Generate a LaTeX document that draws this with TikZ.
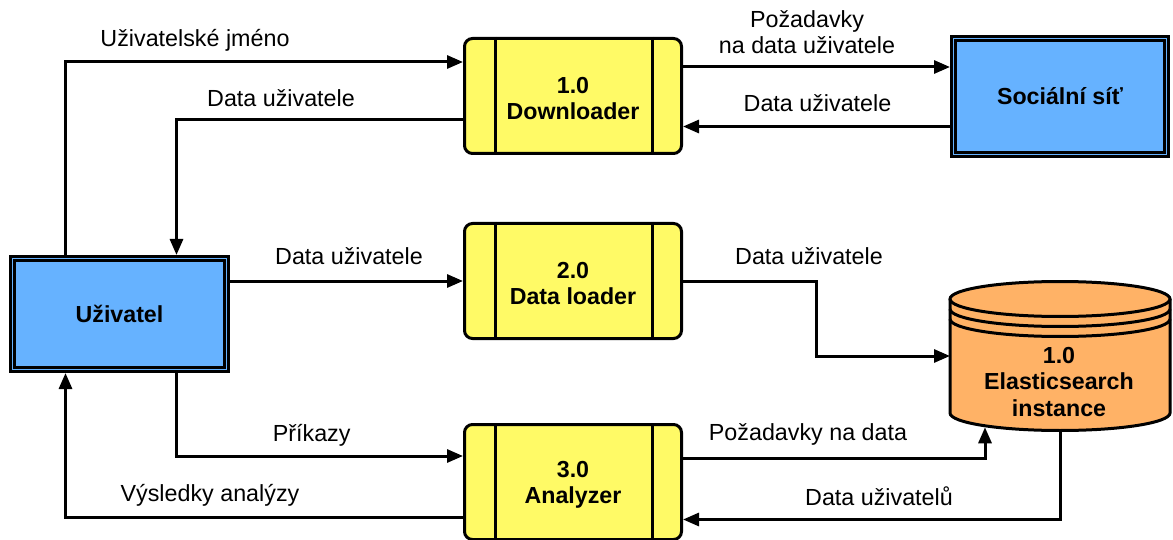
\documentclass[tikz,border=0pt]{standalone}
\usepackage{fontspec}
\setmainfont{Liberation Sans}
\usetikzlibrary{arrows.meta,calc}
\definecolor{procfill}{HTML}{FFFA66}
\definecolor{entfill}{HTML}{66B2FF}
\definecolor{storefill}{HTML}{FFB266}
\newcommand{\toprule}{\rule{0pt}{21pt}}
\begin{document}
\begin{tikzpicture}[x=1pt,y=-1pt,
  boxfont/.style={font=\bfseries\fontsize{23.2}{25.7}\selectfont},
  proc/.style={rectangle, rounded corners=8pt, draw, line width=3pt, fill=procfill,
    minimum width=217pt, minimum height=115pt, align=center, inner sep=0pt, boxfont},
  ent/.style={rectangle, draw, line width=2.6pt, double=entfill, double distance=1.6pt,
    fill=entfill, outer sep=3.4pt, inner sep=0pt, boxfont},
  flow/.style={line width=3pt, -{Triangle[length=16pt,width=13pt]}},
  lbl/.style={anchor=base, inner sep=0pt, font=\fontsize{23.3}{26.7}\selectfont},
  cyl/.style={line width=3pt},
  sep/.style={line width=3pt}
]
\useasboundingbox (0,0) rectangle (1173,540);

% processes
\node[proc] (dl) at (573,96) {\toprule 1.0\\Downloader};
\node[proc] (ld) at (573,281) {\toprule 2.0\\Data loader};
\node[proc] (an) at (573,482) {\rule{0pt}{22pt}3.0\\Analyzer};
\foreach \p in {dl,ld,an}{
  \draw[sep] ($(\p.north west)+(32,0)$) -- ($(\p.south west)+(32,0)$);
  \draw[sep] ($(\p.north east)+(-31,0)$) -- ($(\p.south east)+(-31,0)$);
}

% external entities
\node[ent, minimum width=213.2pt, minimum height=116.2pt] (soc) at (1060,96.5) {Sociální síť};
\node[ent, minimum width=214.2pt, minimum height=111.2pt] (u) at (119.5,314) {Uživatel};

% data store (cylinder with rings)
\fill[storefill] (950,299) -- (950,413)
  arc[start angle=180,end angle=0,x radius=110,y radius=17.5] -- (1170,299)
  arc[start angle=0,end angle=-180,x radius=110,y radius=17.5] -- cycle;
\draw[cyl] (950,299) -- (950,413)
  arc[start angle=180,end angle=0,x radius=110,y radius=17.5] -- (1170,299);
\draw[cyl] (1060,299) ellipse[x radius=110,y radius=17.5];
\draw[cyl] (950,309) arc[start angle=180,end angle=0,x radius=110,y radius=17.5];
\draw[cyl] (950,319) arc[start angle=180,end angle=0,x radius=110,y radius=17.5];
\node[minimum width=220pt, minimum height=149.5pt, inner sep=0pt, outer sep=0pt] (es) at (1060,356) {};
\node[align=center, inner sep=0pt, font=\bfseries\fontsize{23.2}{26.7}\selectfont] (estext) at (1059,382) {1.0\\Elasticsearch\\instance};
\coordinate (esq) at (985,427.3);

% flows
\coordinate (c1) at ($(u.north)+(-54,0)$);
\draw[flow] (c1) |- ($(dl.west)+(0,-34)$);
\draw[flow] ($(dl.west)+(0,24)$) -| ($(u.north)+(57,0)$);
\coordinate (c3) at ($(dl.east)+(0,-29)$);
\draw[flow] (c3) -- (c3 -| soc.west);
\coordinate (c4) at ($(soc.west)+(0,30)$);
\draw[flow] (c4) -- (c4 -| dl.east);
\draw[flow] (ld.west -| u.east) -- (ld.west);
\draw[flow] (ld.east) -| ($(ld.east)!0.5!(es.west)$) |- (es.west);
\draw[flow] ($(u.south)+(57,0)$) |- ($(an.west)+(0,-26)$);
\draw[flow] ($(an.west)+(0,35.5)$) -| ($(u.south)+(-54,0)$);
\draw[flow] ($(an.east)+(0,-24)$) -| (esq);
\draw[flow] (es.south) |- ($(an.east)+(0,37.5)$);

% flow labels
\node[lbl] (l1) at (195,46.7) {Uživatelské jméno};
\node[lbl] (l2) at (281,106.7) {Data uživatele};
\node[align=center, inner sep=0pt, font=\fontsize{23.3}{26.7}\selectfont] (l3) at (807,32) {Požadavky\\na data uživatele};
\node[lbl] (l4) at (817.5,112) {Data uživatele};
\node[lbl] (l5) at (349,265) {Data uživatele};
\node[lbl] (l6) at (809,265) {Data uživatele};
\node[lbl] (l7) at (311.7,441.7) {Příkazy};
\node[lbl] (l8) at (210,501.7) {Výsledky analýzy};
\node[lbl] (l9) at (808,440) {Požadavky na data};
\node[lbl] (l10) at (879,505) {Data uživatelů};
\end{tikzpicture}
\end{document}
